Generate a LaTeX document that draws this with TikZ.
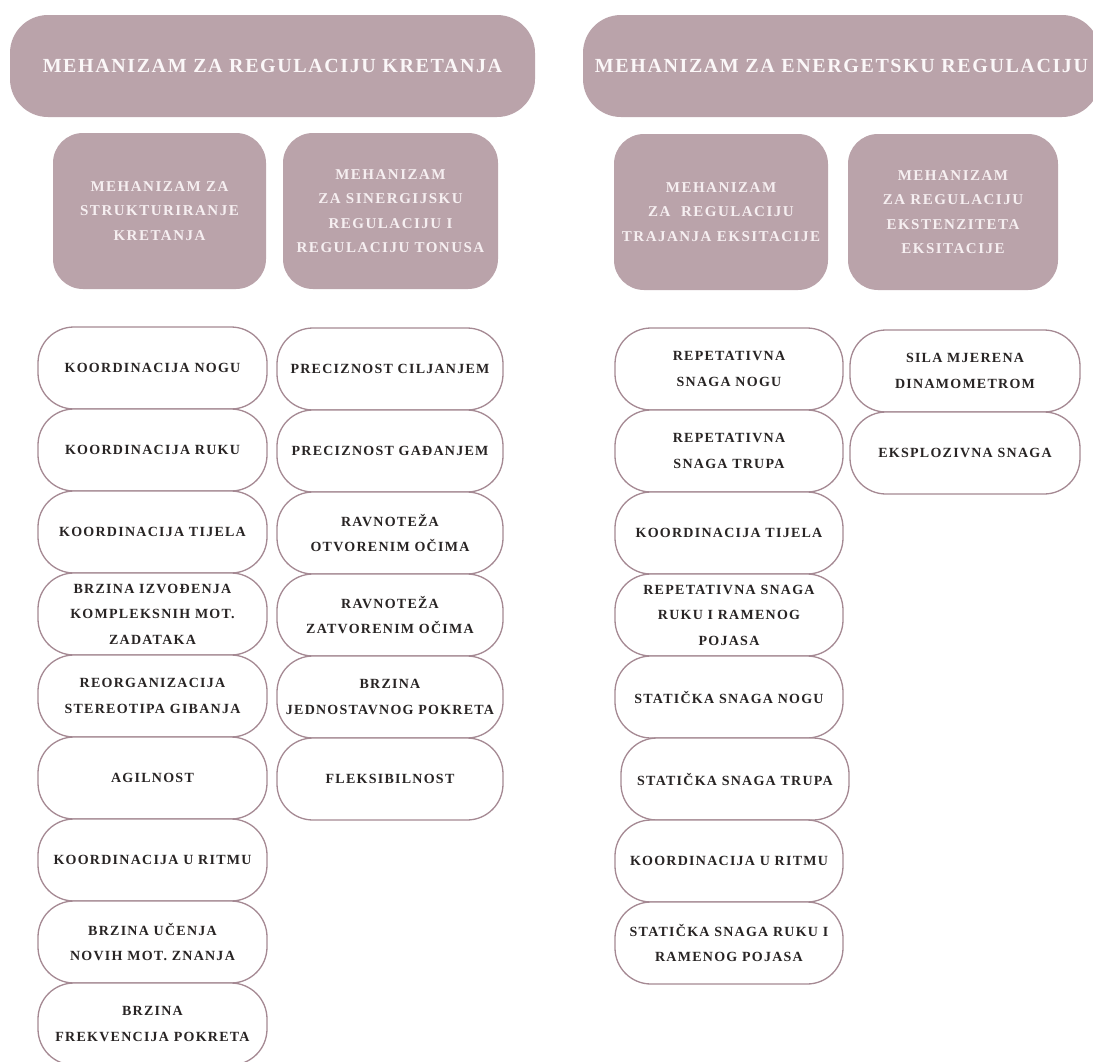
\documentclass[tikz,border=0pt]{standalone}
\usepackage{fontspec}
\setmainfont{Liberation Serif}
\newfontfamily\hdfont[LetterSpace=8]{Liberation Serif}
\newfontfamily\subfont[LetterSpace=10]{Liberation Serif}
\newfontfamily\itemfont[LetterSpace=9]{Liberation Serif}
\definecolor{mauve}{RGB}{186,163,170}
\definecolor{hdtext}{RGB}{251,247,248}
\definecolor{subtext}{RGB}{246,239,241}
\definecolor{itemline}{RGB}{165,137,147}
\definecolor{itemtext}{RGB}{40,36,36}
\begin{document}
\begin{tikzpicture}[x=1pt,y=-1pt,
  hdr/.style={rounded corners=38pt, fill=mauve, text=hdtext,
    font=\hdfont\fontsize{20}{24}\selectfont\bfseries,
    minimum height=102pt, inner sep=0pt},
  subbox/.style={rounded corners=30pt, fill=mauve, text=subtext,
    font=\subfont\fontsize{15}{24.5}\selectfont\bfseries, align=center,
    minimum height=156pt, inner sep=0pt},
  item/.style={rounded corners=36pt, draw=itemline, line width=1.3pt, fill=white,
    text=itemtext, font=\itemfont\fontsize{14}{25.5}\selectfont\bfseries,
    align=center, minimum height=82pt, inner sep=0pt},
  lc1/.style={item, minimum width=229pt},
  lc2/.style={item, minimum width=226pt},
  rc1/.style={item, minimum width=228pt},
  rc2/.style={item, minimum width=230pt}
]
\useasboundingbox (0,0) rectangle (1093,1061);
\clip (0,0) rectangle (1093,1061);
\fill[white] (0,0) rectangle (1093,1061);

% headers
\node[hdr, minimum width=525pt] (h1) at (272.5,66) {MEHANIZAM ZA REGULACIJU KRETANJA};
\node[hdr, minimum width=517pt] (h2) at (841.5,66) {MEHANIZAM ZA ENERGETSKU REGULACIJU};

% sub boxes
\node[subbox, minimum width=213pt] (s1) at (159.5,211) {MEHANIZAM ZA\\STRUKTURIRANJE\\KRETANJA};
\node[subbox, minimum width=215pt] (s2) at (390.5,211) {MEHANIZAM\\ZA SINERGIJSKU\\REGULACIJU I\\REGULACIJU TONUSA};
\node[subbox, minimum width=214pt] (s3) at (721,212) {MEHANIZAM\\ZA\ \ REGULACIJU\\TRAJANJA EKSITACIJE};
\node[subbox, minimum width=210pt] (s4) at (953,212) {MEHANIZAM\\ZA REGULACIJU\\EKSTENZITETA\\EKSITACIJE};

% left column 1
\node[lc1] (a1) at (152.5,368) {KOORDINACIJA NOGU};
\node[lc1] (a2) at (152.5,450) {KOORDINACIJA RUKU};
\node[lc1] (a3) at (152.5,532) {KOORDINACIJA TIJELA};
\node[lc1] (a4) at (152.5,614) {BRZINA IZVOĐENJA\\KOMPLEKSNIH MOT.\\ZADATAKA};
\node[lc1] (a5) at (152.5,696) {REORGANIZACIJA\\STEREOTIPA GIBANJA};
\node[lc1] (a6) at (152.5,778) {AGILNOST};
\node[lc1] (a7) at (152.5,860) {KOORDINACIJA U RITMU};
\node[lc1] (a8) at (152.5,942) {BRZINA UČENJA\\NOVIH MOT. ZNANJA};
\node[lc1] (a9) at (152.5,1024) {BRZINA\\FREKVENCIJA POKRETA};

% left column 2
\node[lc2] (b1) at (390,369) {PRECIZNOST CILJANJEM};
\node[lc2] (b2) at (390,451) {PRECIZNOST GAĐANJEM};
\node[lc2] (b3) at (390,533) {RAVNOTEŽA\\OTVORENIM OČIMA};
\node[lc2] (b4) at (390,615) {RAVNOTEŽA\\ZATVORENIM OČIMA};
\node[lc2] (b5) at (390,697) {BRZINA\\JEDNOSTAVNOG POKRETA};
\node[lc2] (b6) at (390,779) {FLEKSIBILNOST};

% right column 1
\node[rc1] (c1) at (729,369) {REPETATIVNA\\SNAGA NOGU};
\node[rc1] (c2) at (729,451) {REPETATIVNA\\SNAGA TRUPA};
\node[rc1] (c3) at (729,533) {KOORDINACIJA TIJELA};
\node[rc1] (c4) at (729,615) {REPETATIVNA SNAGA\\RUKU I RAMENOG\\POJASA};
\node[rc1] (c5) at (729,697) {STATIČKA SNAGA NOGU};
\node[rc1] (c6) at (735,779) {STATIČKA SNAGA TRUPA};
\node[rc1] (c7) at (729,861) {KOORDINACIJA U RITMU};
\node[rc1] (c8) at (729,943) {STATIČKA SNAGA RUKU I\\RAMENOG POJASA};

% right column 2
\node[rc2] (d1) at (965,371) {SILA MJERENA\\DINAMOMETROM};
\node[rc2] (d2) at (965,453) {EKSPLOZIVNA SNAGA};
\end{tikzpicture}
\end{document}
